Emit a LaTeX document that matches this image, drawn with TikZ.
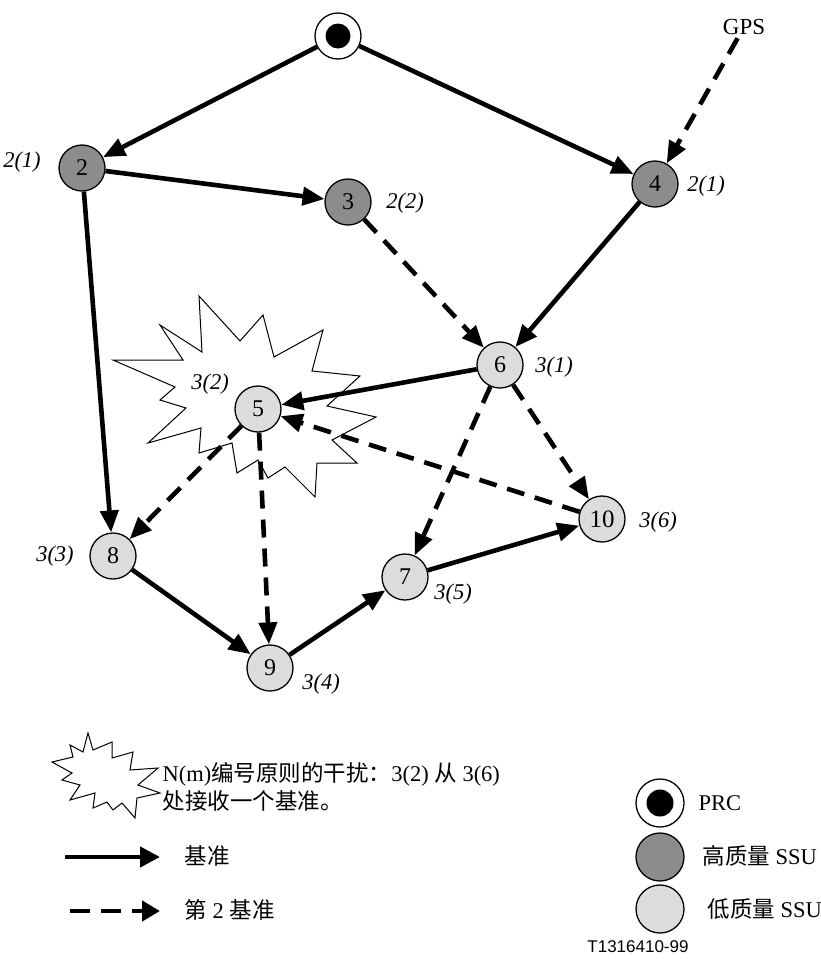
\documentclass[tikz,border=0pt]{standalone}
\usepackage{fontspec}
\setmainfont{Liberation Serif}
\newfontfamily\cjk{Noto Sans CJK SC}
\newfontfamily\codesans{Liberation Sans}
\usetikzlibrary{arrows.meta}
\definecolor{hiq}{RGB}{140,140,140}
\definecolor{loq}{RGB}{220,220,220}
\begin{document}
\begin{tikzpicture}[x=1pt,y=-1pt,
  ssu/.style={circle,draw,line width=1.3pt,minimum size=46pt,inner sep=0pt,font=\fontsize{24}{24}\selectfont},
  hi/.style={ssu,fill=hiq},
  lo/.style={ssu,fill=loq},
  lab/.style={font=\fontsize{22.5}{22.5}\selectfont\itshape},
  txt/.style={font=\fontsize{22.5}{28}\selectfont},
  ref/.style={line width=4.6pt,-{Triangle[length=22pt,width=18pt]}},
  sec/.style={ref,dash pattern=on 18pt off 11pt},
  burst/.style={draw,fill=white,line width=1pt,line join=miter},
]
\useasboundingbox (0,0) rectangle (821,959);

% interference star behind node 5
\draw[burst] (199,296) -- (240,341) -- (263,315) -- (274,357) -- (323,330) -- (312,371)
  -- (360,376) -- (327,406) -- (376,417) -- (332,440) -- (357,463) -- (317,463)
  -- (315,497) -- (285,467) -- (268,478) -- (258,460) -- (237,473) -- (232,443)
  -- (199,453) -- (201,428) -- (148,443) -- (186,408) -- (160,400) -- (175,387)
  -- (113,360) -- (183,360) -- (160,325) -- (202,352) -- cycle;

% nodes
\node[ssu,fill=white] (prc) at (338,36) {};
\fill (prc.center) circle (12.5pt);
\node[hi] (n2) at (82,168) {2};
\node[hi] (n3) at (348,202) {3};
\node[hi] (n4) at (655,184) {4};
\node[lo] (n6) at (500,365) {6};
\node[lo] (n5) at (258,409) {5};
\node[lo] (n8) at (113,556) {8};
\node[lo] (n7) at (405,577) {7};
\node[lo,font=\fontsize{25}{25}\selectfont] (n10) at (602,519) {10};
\node[lo] (n9) at (270,668) {9};
\node[txt,font=\fontsize{23}{23}\selectfont] (gps) at (744,27) {GPS};

% labels
\node[lab] (l2) at (22,162) {2(1)};
\node[lab] (l3) at (405,203) {2(2)};
\node[lab] (l4) at (706,186) {2(1)};
\node[lab] (l6) at (554,367) {3(1)};
\node[lab] (l5) at (210,384) {3(2)};
\node[lab] (l8) at (55,556) {3(3)};
\node[lab] (l7) at (453,594) {3(5)};
\node[lab] (l10) at (658,522) {3(6)};
\node[lab] (l9) at (321,684) {3(4)};

% connectors
\draw[ref] (prc) -- (n2);
\draw[ref] (prc) -- (n4);
\draw[sec] (gps) -- (n4);
\draw[ref] (n2) -- (n3);
\draw[sec] (n3) -- (n6);
\draw[ref] (n4) -- (n6);
\draw[ref] (n6) -- (n5);
\draw[ref] (n2) -- (n8);
\draw[sec] (n5) -- (n8);
\draw[sec] (n5) -- (n9);
\draw[sec] (n6) -- (n7);
\draw[sec] (n6) -- (n10);
\draw[sec] (n10) -- (n5);
\draw[ref] (n8) -- (n9);
\draw[ref] (n9) -- (n7);
\draw[ref] (n7) -- (n10);

% legend: burst
\draw[burst] (88,733) -- (93,750) -- (112,742) -- (112,758) -- (133,752) -- (130,770)
  -- (158,768) -- (138,785) -- (160,793) -- (137,798) -- (135,818) -- (122,803)
  -- (113,810) -- (107,802) -- (93,808) -- (95,793) -- (70,800) -- (80,785)
  -- (62,780) -- (72,773) -- (52,762) -- (73,757) -- (70,745) -- (83,752) -- cycle;
\node[txt,anchor=west,align=left] (legburst) at (159,787)
  {N(m){\cjk 编号原则的干扰：}3(2) {\cjk 从} 3(6)\\{\cjk 处接收一个基准。}};

% legend: arrows
\coordinate (ls1) at (65,857);
\coordinate (ls2) at (160,857);
\draw[line width=4.6pt,-{Triangle[length=20pt,width=20pt]}] (ls1) -- (ls2);
\node[txt,anchor=west] (legref) at (181,856) {\cjk 基准};
\coordinate (ld1) at (70,911);
\coordinate (ld2) at (160,911);
\draw[line width=4.6pt,dash pattern=on 20pt off 11pt,-{Triangle[length=18pt,width=20pt]}] (ld1) -- (ld2);
\node[txt,anchor=west] (legsec) at (181,910) {{\cjk 第} 2 {\cjk 基准}};

% legend: circles
\node[ssu,fill=white,minimum size=48pt] (lprc) at (660,803) {};
\fill (lprc.center) circle (13.5pt);
\node[txt,anchor=west] (tprc) at (695,803) {PRC};
\node[hi,minimum size=48pt] (lhi) at (660,857) {};
\node[txt,anchor=west] (thi) at (699,856) {{\cjk 高质量} SSU};
\node[lo,minimum size=48pt] (llo) at (660,909) {};
\node[txt,anchor=west] (tlo) at (704,909) {{\cjk 低质量} SSU};

\node[font=\codesans\fontsize{17}{17}\selectfont] (code) at (638,947) {T1316410-99};
\end{tikzpicture}
\end{document}
